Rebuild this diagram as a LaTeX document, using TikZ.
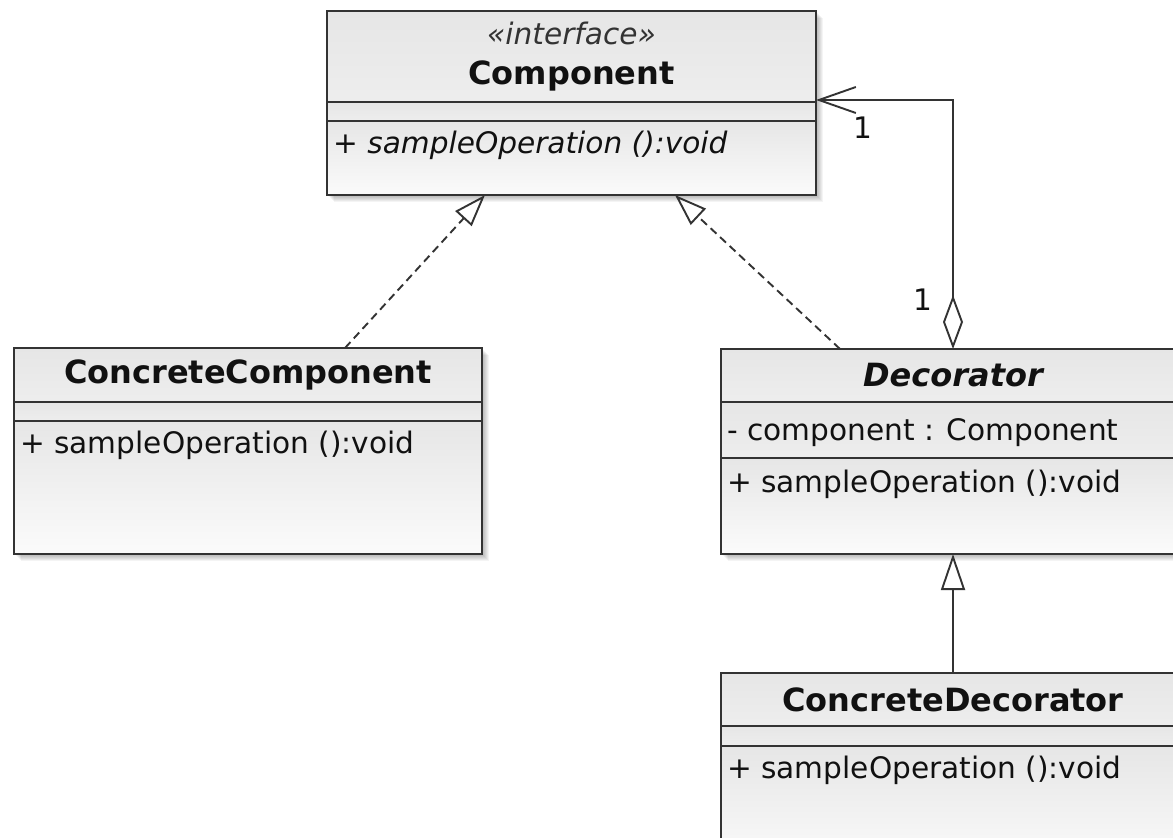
\documentclass[tikz,border=0pt]{standalone}
\usepackage{fontspec}
\setmainfont{DejaVu Sans}
\usepackage{tikz}
\usetikzlibrary{positioning,arrows.meta,backgrounds}
\definecolor{umlline}{HTML}{333333}
\definecolor{umltext}{HTML}{111111}
\definecolor{umlgray}{HTML}{E6E6E6}
\definecolor{umlpale}{HTML}{FBFBFB}
\newcommand{\bodyfont}{\fontsize{29.6}{36}\selectfont}
\newcommand{\headfont}{\fontsize{32}{38}\selectfont\bfseries}

\begin{document}
\begin{tikzpicture}[x=1pt,y=-1pt,
    part/.style={draw=umlline, line width=2pt, inner sep=0pt, outer sep=0pt, minimum width=#1},
    head/.style={part=#1, top color=umlgray, bottom color=umlgray!70!white, font=\headfont, text=umltext},
    mid/.style={part=#1, top color=umlgray, bottom color=umlgray!70!white},
    body/.style={part=#1, top color=umlgray, bottom color=umlpale},
    member/.style={anchor=base west, inner sep=0pt, font=\bodyfont, text=umltext},
    mult/.style={font=\bodyfont, text=umltext},
    conn/.style={draw=umlline, line width=1.9pt},
    realize/.style={conn, dash pattern=on 8pt off 5pt, -{Triangle[open, length=32pt, width=22pt]}},
    generalize/.style={conn, -{Triangle[open, length=36pt, width=24pt]}},
    aggregate/.style={conn, {Diamond[open, length=54pt, width=20pt]}-{Straight Barb[length=37pt, width=26pt]}}]
  \useasboundingbox (0,0) rectangle (1173,838);
  \clip (0,0) rectangle (1173,838);

  % Component
  \node[head=489pt, minimum height=91pt, align=center] (comp) at (571.5,56.5)
    {{\bodyfont\mdseries\itshape\color{umlline}«interface»}\\[2pt]Component};
  \node[mid=489pt, minimum height=19pt, below=0pt of comp] (comp-attr) {};
  \node[body=489pt, minimum height=74pt, below=0pt of comp-attr] (comp-ops) {};
  \node[member] (comp-op) at ([xshift=6pt,yshift=-32pt]comp-ops.north west) {\itshape + sampleOperation ():void};

  % ConcreteComponent
  \node[head=468pt, minimum height=54pt] (ccomp) at (248,375) {ConcreteComponent};
  \node[mid=468pt, minimum height=19pt, below=0pt of ccomp] (ccomp-attr) {};
  \node[body=468pt, minimum height=133pt, below=0pt of ccomp-attr] (ccomp-ops) {};
  \node[member] (ccomp-op) at ([xshift=6pt,yshift=-32pt]ccomp-ops.north west) {+ sampleOperation ():void};

  % Decorator
  \node[head=464pt, minimum height=53pt] (dec) at (953,375.5) {\itshape Decorator};
  \node[mid=464pt, minimum height=56pt, below=0pt of dec] (dec-attr) {};
  \node[body=464pt, minimum height=96pt, below=0pt of dec-attr] (dec-ops) {};
  \node[member] (dec-field) at ([xshift=6pt,yshift=-38pt]dec-attr.north west) {- component : Component};
  \node[member] (dec-op) at ([xshift=6pt,yshift=-34pt]dec-ops.north west) {+ sampleOperation ():void};

  % ConcreteDecorator
  \node[head=464pt, minimum height=53pt] (cdec) at (953,699.5) {ConcreteDecorator};
  \node[mid=464pt, minimum height=20pt, below=0pt of cdec] (cdec-attr) {};
  \node[body=464pt, minimum height=120pt, below=0pt of cdec-attr] (cdec-ops) {};
  \node[member] (cdec-op) at ([xshift=6pt,yshift=-32pt]cdec-ops.north west) {+ sampleOperation ():void};

  % relations
  \draw[realize] ([xshift=97pt]ccomp.north) -- ([xshift=-86.5pt]comp-ops.south);
  \draw[realize] ([xshift=-113pt]dec.north) -- ([xshift=103.5pt]comp-ops.south);
  \draw[generalize] (cdec.north) -- (dec-ops.south);
  \draw[aggregate] (dec.north) |- ([yshift=2pt]comp.south east);
  \node[mult] (mult-comp) at ([xshift=47pt,yshift=-26pt]comp.south east) {1};
  \node[mult] (mult-dec) at ([xshift=-30pt,yshift=49pt]dec.north) {1};

  % soft shadows
  \begin{scope}[on background layer]
    \fill[white] (0,0) rectangle (1173,838);
    \clip (0,0) rectangle (1173,838);
    \foreach \cls in {comp,ccomp,dec,cdec}
      \foreach \s in {1,...,7}
        \fill[black, opacity=0.045] ([shift={(\s,\s)}]\cls.north west) rectangle ([shift={(\s,\s)}]\cls-ops.south east);
  \end{scope}
\end{tikzpicture}
\end{document}
